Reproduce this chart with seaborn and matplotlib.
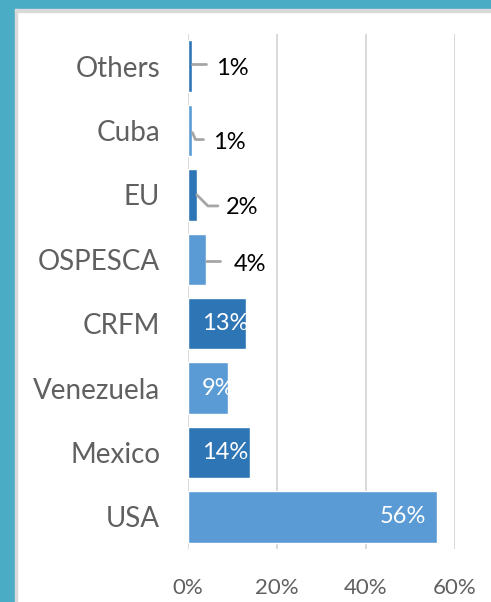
import numpy as np
import pandas as pd
import seaborn as sns
import matplotlib.pyplot as plt
from matplotlib.patches import Rectangle
from matplotlib.transforms import IdentityTransform

# data, top to bottom as shown
categories = ["Others", "Cuba", "EU", "OSPESCA", "CRFM", "Venezuela", "Mexico", "USA"]
shares = [1, 1, 2, 4, 13, 9, 14, 56]
bar_colors = ["#2E75B6", "#5B9BD5", "#2E75B6", "#5B9BD5", "#2E75B6", "#5B9BD5", "#2E75B6", "#5B9BD5"]
x_ticks = [0, 20, 40, 60]

# leader lines for the small outside labels (pixel offsets from bar end / centre, y down)
leaders = {
    "Others": [(0, -2), (14, -2)],
    "Cuba": [(0, 2), (3, 9), (11, 9)],
    "EU": [(0, 0), (11, 11), (21, 11)],
    "OSPESCA": [(0, 2), (14, 2)],
}
label_offsets = {"Others": (24, 2), "Cuba": (21, 12), "EU": (29, 13), "OSPESCA": (28, 5)}

sns.set_style("white")
plt.rcParams['font.family'] = ['Lato', 'DejaVu Sans']

df = pd.DataFrame({"cat": categories, "share": shares})

fig = plt.figure(figsize=(4.91, 6.02), dpi=100)
ax = fig.add_axes([188/491, 1-549/602, (455-188)/491, (549-34)/602])

sns.barplot(data=df, x="share", y="cat", hue="cat", palette=bar_colors,
            orient="h", width=0.8, legend=False, ax=ax, zorder=3, saturation=1)

ax.set_xlim(0, 60)
ax.set_ylim(len(categories) - 0.5, -0.5)
ax.set_xticks(x_ticks)
ax.set_xticklabels([f"{t}%" for t in x_ticks])
ax.set_xlabel("")
ax.set_ylabel("")
for s in ax.spines.values():
    s.set_visible(False)
ax.grid(axis="x", color="#D9D9D9", linewidth=1.4, zorder=0)
ax.grid(axis="y", visible=False)
ax.tick_params(axis="y", length=0, pad=20, labelsize=20, labelcolor="#606060")
ax.tick_params(axis="x", length=0, pad=21, labelsize=16, labelcolor="#606060")

for i, (cat, v) in enumerate(zip(categories, shares)):
    if cat in leaders:
        bx, by = ax.transData.transform((v, i))
        pts = np.array([(bx + dx, by - dy) for dx, dy in leaders[cat]])
        ax.add_line(plt.Line2D(pts[:, 0], pts[:, 1], transform=IdentityTransform(),
                               color="#A6A6A6", linewidth=2, zorder=4))
        ox, oy = label_offsets[cat]
        ax.annotate(f"{v}%", xy=(v, i), xytext=(ox, -oy), textcoords="offset pixels",
                    ha="left", va="center", fontsize=17, color="black")
    elif v > 20:
        ax.annotate(f"{v}%", xy=(v, i), xytext=(-11, 0), textcoords="offset pixels",
                    ha="right", va="center", fontsize=17, color="white", zorder=5)
    else:
        # short bars: label pinned near the bar start
        ax.annotate(f"{v}%", xy=(0, i), xytext=(14, 0), textcoords="offset pixels",
                    ha="left", va="center", fontsize=17, color="white", zorder=5)

# frame around the panel
teal = "#4BACC6"
fig.patches.append(Rectangle((0, 1 - 9/602), 1, 9/602, transform=fig.transFigure, color=teal, zorder=0))
fig.patches.append(Rectangle((0, 0), 15/491, 1, transform=fig.transFigure, color=teal, zorder=0))
fig.patches.append(Rectangle((15/491, 1 - 12/602), 1, 3/602, transform=fig.transFigure, color="#D9D9D9", zorder=0))
fig.patches.append(Rectangle((15/491, 0), 2/491, 1 - 9/602, transform=fig.transFigure, color="#D9D9D9", zorder=0))

fig.savefig("out.png", dpi=100)
